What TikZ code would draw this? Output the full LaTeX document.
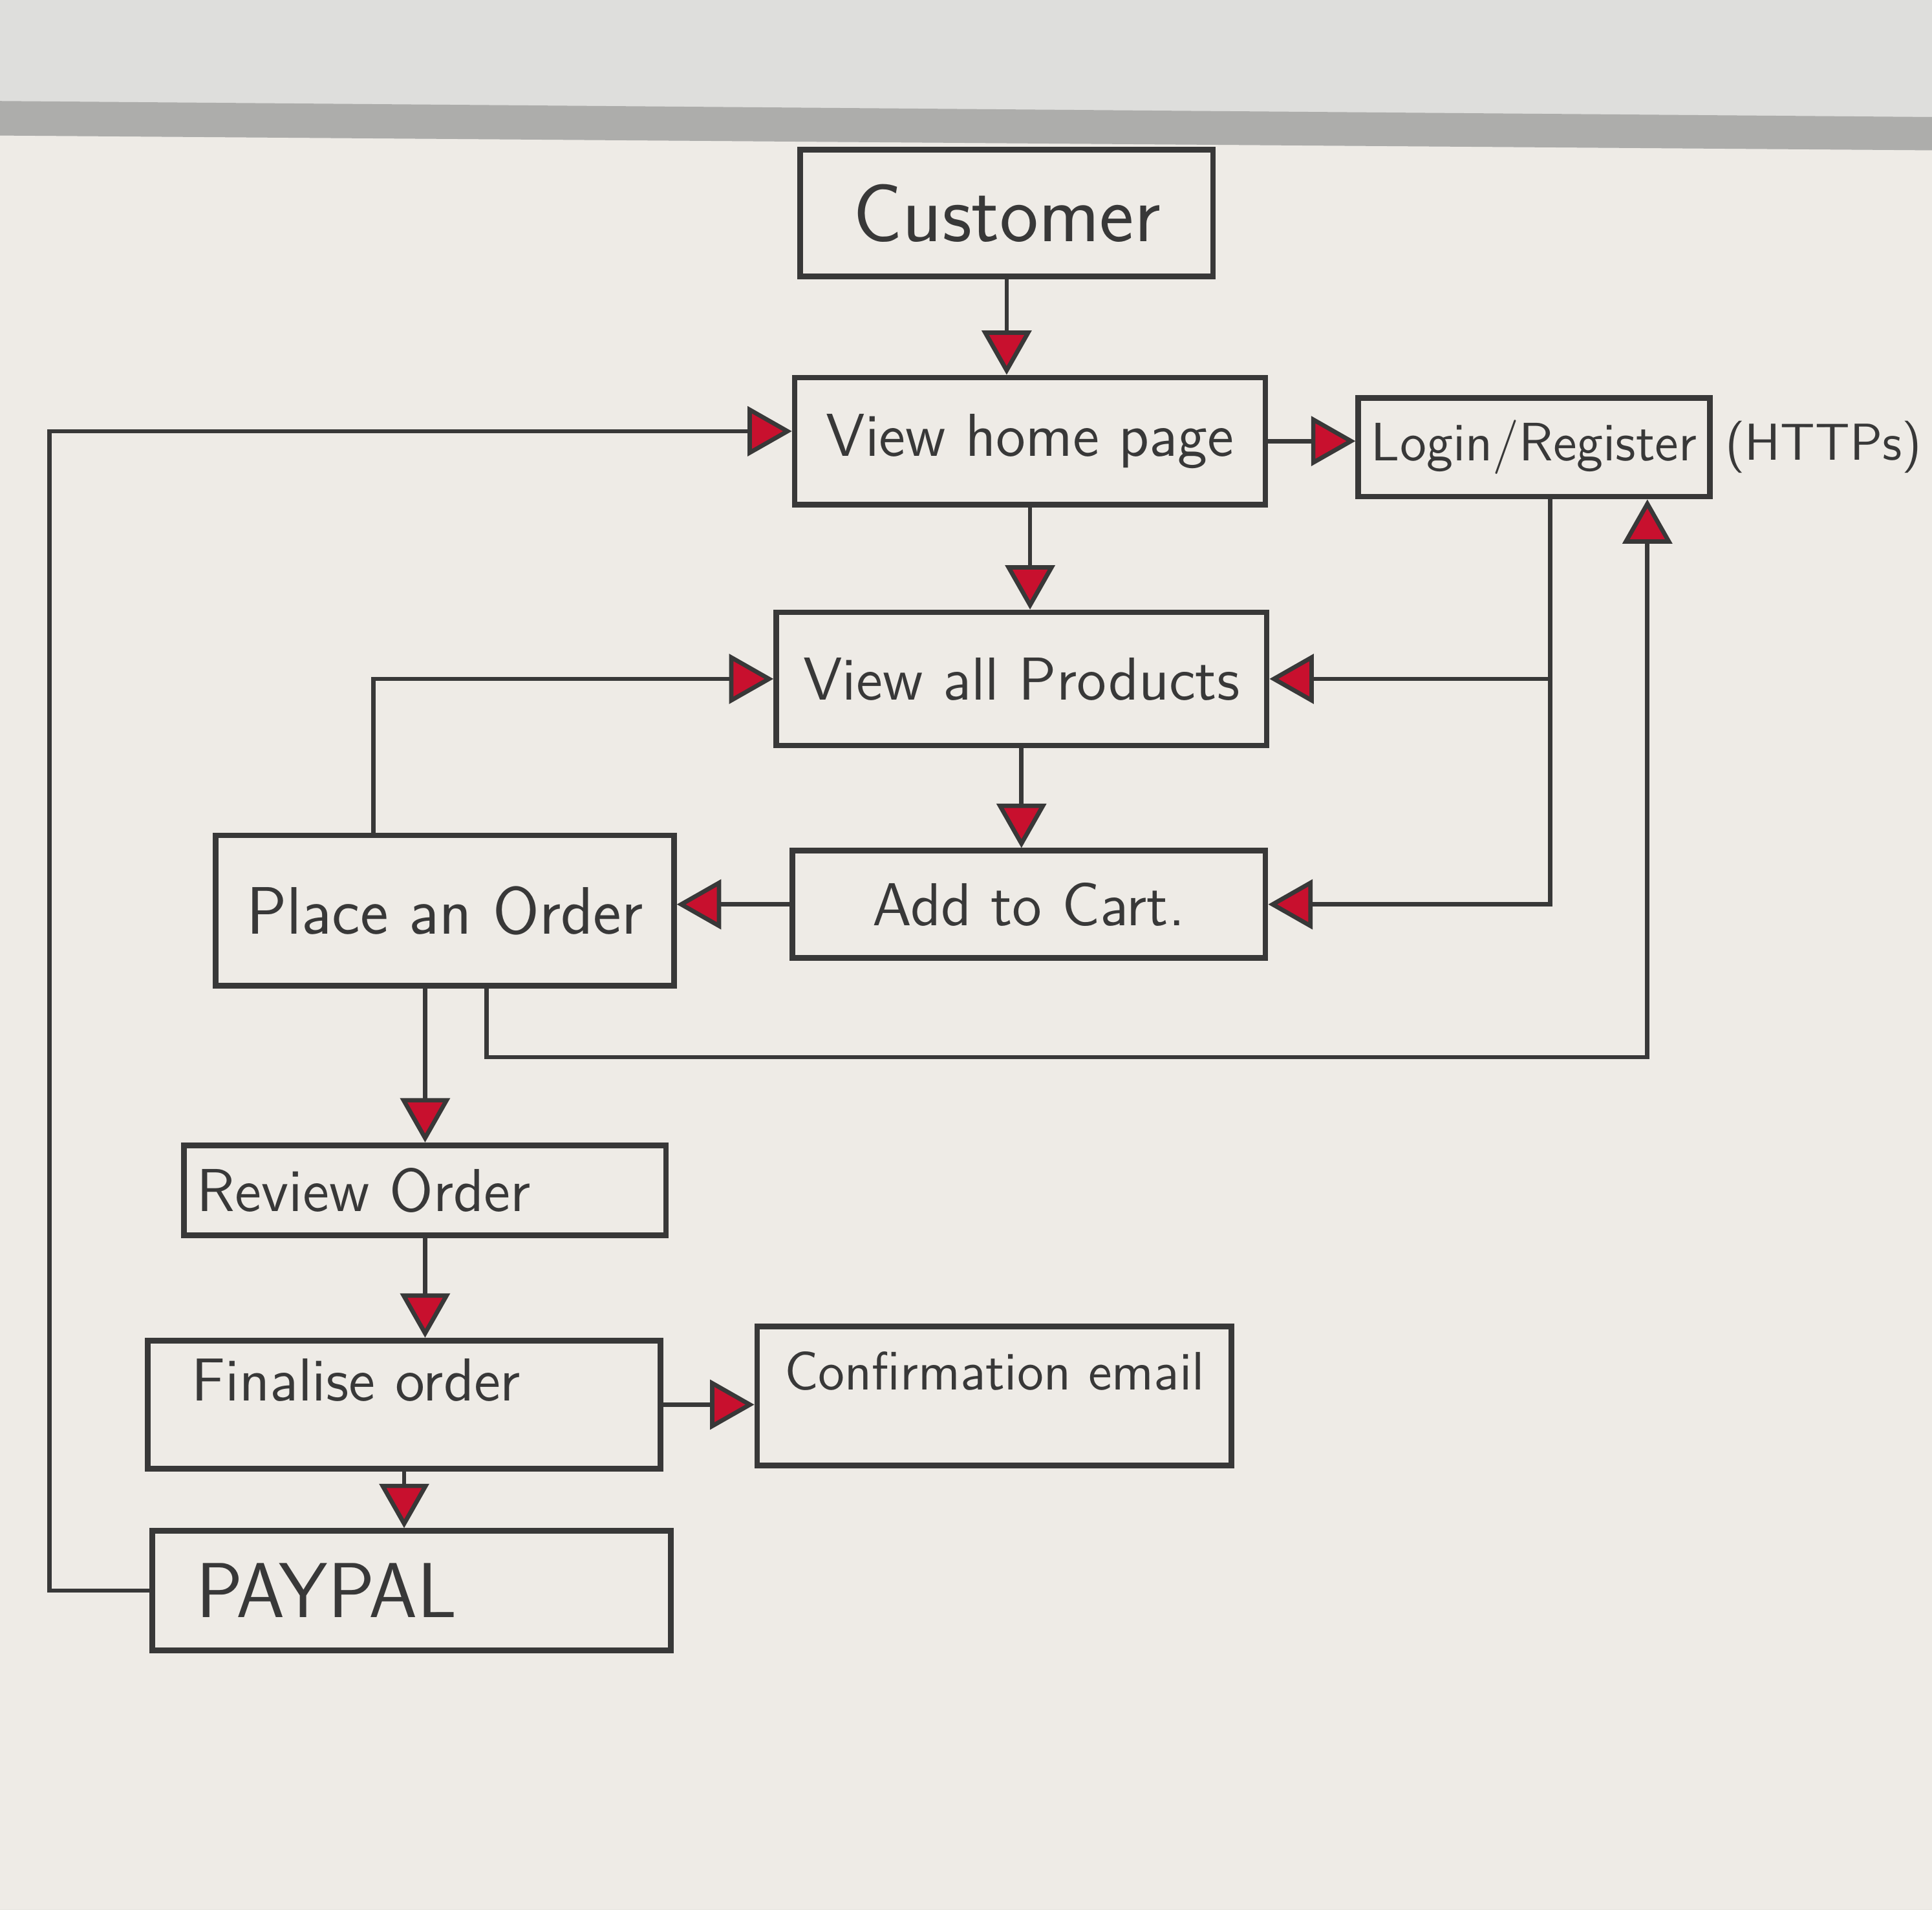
\documentclass[tikz,border=0pt]{standalone}
\usepackage{tikz}
\usetikzlibrary{arrows.meta,positioning,calc}
\definecolor{boardbg}{HTML}{EEEBE6}
\definecolor{wallbg}{HTML}{DEDEDC}
\definecolor{framegrey}{HTML}{ADADAB}
\definecolor{penblack}{HTML}{383838}
\definecolor{markerred}{HTML}{C8102E}

\begin{document}
\begin{tikzpicture}[
  x=0.1mm, y=-0.1mm,
  >={Triangle[length=3.6mm, width=4mm, fill=markerred]},
  color=penblack, line width=1pt,
  box/.style={draw, line width=1.3pt, align=center, font=\sffamily\fontsize{14}{16}\selectfont, inner sep=3pt},
  bigbox/.style={box, font=\sffamily\fontsize{19}{22}\selectfont},
  smallbox/.style={box, font=\sffamily\fontsize{12.5}{14}\selectfont},
  note/.style={font=\sffamily\fontsize{12}{14}\selectfont, inner sep=1pt}
]
% board and frame
\useasboundingbox (0,0) rectangle (1568,1550);
\fill[wallbg] (0,0) rectangle (1568,1550);
\fill[boardbg] (0,110) -- (1568,122) -- (1568,1550) -- (0,1550) -- cycle;
\fill[framegrey] (0,82) -- (1568,95) -- (1568,122) -- (0,110) -- cycle;

% boxes
\node[bigbox, minimum width=33.5mm, minimum height=10.3mm] (customer) at (817,173) {Customer};
\node[box, minimum width=38.2mm, minimum height=10.3mm] (home) at (836,358) {View home page};
\node[smallbox, minimum width=28.4mm, minimum height=8mm] (login) at (1245,363) {Login/Register};
\node[note, right=0.5mm of login] (https) {(HTTPs)};
\node[box, minimum width=39.8mm, minimum height=10.8mm] (products) at (829,551) {View all Products};
\node[box, minimum width=37.2mm, minimum height=12.2mm, font=\sffamily\fontsize{15.5}{18}\selectfont] (order) at (361,739) {Place an Order};
\node[box, minimum width=38.4mm, minimum height=8.7mm] (cart) at (835,734) {Add to Cart.};
\node[box, text width=37mm, align=left, minimum height=7.3mm] (review) at (345,966) {Review Order};
\node[box, text width=39.5mm, align=left, minimum height=10.4mm] (finalise) at (328,1140) {\raisebox{2mm}[\height][\depth]{\hspace*{2.5mm}Finalise order}};
\node[smallbox, minimum width=38.5mm, minimum height=11.3mm] (confirm) at (807,1133) {\raisebox{2mm}[\height][\depth]{Confirmation email}};
\node[bigbox, text width=40mm, align=left, minimum height=9.7mm, font=\sffamily\fontsize{18}{20}\selectfont] (paypal) at (334,1291) {\hspace*{2.5mm}PAYPAL};

\coordinate (rail) at (1258,750);
\coordinate (backrail) at (1337,858);
\coordinate (leftrail) at (40,350);

% main flow
\draw[->] (customer.south) -- (customer.south |- home.north);
\draw[->] (home.east) -- (home.east -| login.west);
\draw[->] (home.south) -- (home.south |- products.north);
\draw[->] (products.south) -- (products.south |- cart.north);
\draw[->] (cart.west) -- (cart.west -| order.east);
\draw[->] (order.south -| review.north) -- (review.north);
\draw[->] (review.south) -- (review.south |- finalise.north);
\draw[->] (finalise.east) -- (finalise.east -| confirm.west);
\draw[->] (finalise.south) -- (finalise.south |- paypal.north);

% return paths
\draw[->] (login.south -| rail) |- (cart.east);
\draw[->] (products.east -| rail) -- (products.east);
\draw[->] ($(order.north)+(-58,0)$) |- (products.west);
\draw[->] ($(order.south)+(34,0)$) |- (backrail) -- (backrail |- login.south);
\draw[->] (paypal.west) -| (leftrail) -- (leftrail -| home.west);
\end{tikzpicture}
\end{document}
